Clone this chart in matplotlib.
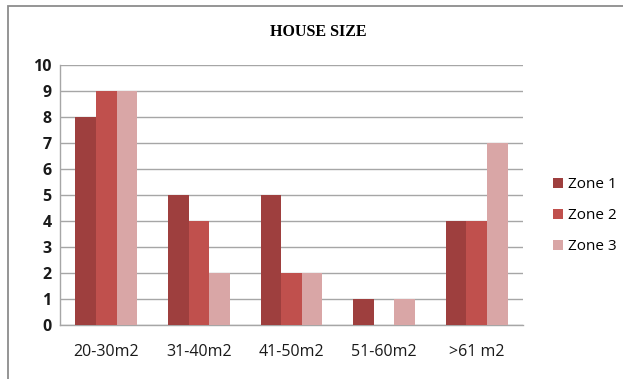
import numpy as np
import matplotlib
matplotlib.use('Agg')
import matplotlib.pyplot as plt
from matplotlib.patches import Rectangle

# house size counts per zone
categories = ['20-30m2', '31-40m2', '41-50m2', '51-60m2', '>61 m2']
zone1 = [8, 5, 5, 1, 4]
zone2 = [9, 4, 2, 0, 4]
zone3 = [9, 2, 2, 1, 7]
series_names = ['Zone 1', 'Zone 2', 'Zone 3']
series_colors = ['#9E3F3E', '#C0504D', '#D9A6A6']

fig = plt.figure(figsize=(6.23, 3.79), dpi=100)
ax = fig.add_axes([0.0963, 0.1425, 0.7432, 0.686])

# outer chart frame (top and left edges only show)
fig.patches.append(Rectangle((8 / 623, -0.1), 1.2, (1 - 6.5 / 379) + 0.1,
                             transform=fig.transFigure, fill=False,
                             edgecolor='#8C8C8C', linewidth=1.3))

x = np.arange(len(categories))
bw = 1 / 4.5
for i, (vals, name, col) in enumerate(zip([zone1, zone2, zone3], series_names, series_colors)):
    ax.bar(x + (i - 1) * bw, vals, width=bw, color=col, label=name, zorder=3)

ax.set_xlim(-0.5, len(categories) - 0.5)
ax.set_ylim(0, 10)
ax.set_yticks(range(0, 11))
ax.yaxis.grid(True, color='#A6A6A6', linewidth=1, zorder=0)
ax.set_axisbelow(True)
for s in ['top', 'right']:
    ax.spines[s].set_visible(False)
for s in ['left', 'bottom']:
    ax.spines[s].set_color('#A6A6A6')
    ax.spines[s].set_linewidth(1)

ax.set_xticks(x)
ax.set_xticklabels(categories, fontsize=11.5, family='Open Sans')
ax.tick_params(axis='both', length=0, colors='#1a1a1a')
ax.tick_params(axis='x', pad=14)
ax.tick_params(axis='y', pad=6)
for lbl in ax.get_yticklabels():
    lbl.set_fontfamily('Open Sans')
    lbl.set_fontweight('bold')
    lbl.set_fontsize(11.5)

fig.text(318 / 623, 1 - 32 / 379, 'HOUSE SIZE', ha='center', va='center',
         family='Liberation Serif', fontweight='bold', fontsize=11.5)

ax.legend(loc='center left', bbox_to_anchor=(1.035, 0.42), frameon=False,
          handlelength=0.65, handleheight=0.65, handletextpad=0.35,
          labelspacing=1.05, prop={'family': 'Open Sans', 'size': 11})

fig.savefig('out.png', dpi=100)
